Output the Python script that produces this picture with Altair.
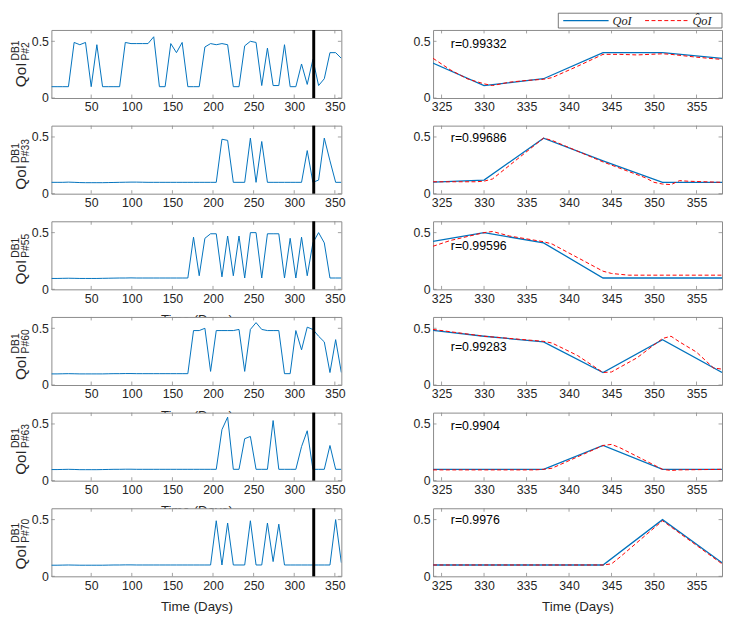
import altair as alt
import pandas as pd

# ---------------- data ----------------
days = list(range(1, 359, 7))  # weekly samples, day 1 .. 358
names = ["P#2", "P#33", "P#55", "P#60", "P#63", "P#70"]
r_values = ["0.99332", "0.99686", "0.99596", "0.99283", "0.9904", "0.9976"]

qoi_p2 = [0.1, 0.1, 0.1, 0.1, 0.49, 0.47, 0.49, 0.1, 0.47, 0.1, 0.1, 0.1, 0.1,
          0.49, 0.48, 0.48, 0.48, 0.48, 0.54, 0.1, 0.1, 0.48, 0.4, 0.49, 0.1, 0.1,
          0.1, 0.45, 0.48, 0.47, 0.48, 0.47, 0.1, 0.1, 0.46, 0.5, 0.49, 0.11, 0.44,
          0.11, 0.11, 0.47, 0.1, 0.1, 0.3, 0.12, 0.34, 0.11, 0.17, 0.4, 0.4, 0.35]
qoi_p33 = [0.1, 0.1, 0.1, 0.102, 0.1, 0.098, 0.097, 0.097, 0.097, 0.097, 0.098, 0.099, 0.1,
           0.101, 0.102, 0.102, 0.101, 0.1, 0.1, 0.1, 0.1, 0.1, 0.1, 0.1, 0.1, 0.1,
           0.1, 0.1, 0.1, 0.1, 0.48, 0.47, 0.1, 0.1, 0.1, 0.49, 0.1, 0.46, 0.1,
           0.1, 0.1, 0.1, 0.1, 0.1, 0.1, 0.38, 0.1, 0.12, 0.49, 0.29, 0.1, 0.1]
qoi_p55 = [0.096, 0.096, 0.097, 0.098, 0.097, 0.096, 0.096, 0.096, 0.096, 0.097, 0.098, 0.099, 0.1,
           0.1, 0.101, 0.1, 0.1, 0.1, 0.1, 0.1, 0.1, 0.1, 0.1, 0.1, 0.1, 0.46,
           0.12, 0.45, 0.49, 0.49, 0.11, 0.47, 0.12, 0.47, 0.1, 0.5, 0.5, 0.1, 0.49,
           0.49, 0.49, 0.1, 0.45, 0.1, 0.46, 0.12, 0.41, 0.5, 0.41, 0.1, 0.1, 0.1]
qoi_p60 = [0.098, 0.098, 0.099, 0.1, 0.099, 0.098, 0.098, 0.098, 0.098, 0.098, 0.099, 0.1, 0.1,
           0.101, 0.101, 0.1, 0.1, 0.1, 0.1, 0.1, 0.1, 0.1, 0.1, 0.1, 0.1, 0.48,
           0.48, 0.5, 0.12, 0.48, 0.48, 0.48, 0.48, 0.49, 0.12, 0.49, 0.55, 0.49, 0.48,
           0.48, 0.48, 0.1, 0.1, 0.48, 0.31, 0.51, 0.49, 0.43, 0.38, 0.11, 0.4, 0.11]
qoi_p63 = [0.098, 0.098, 0.099, 0.1, 0.099, 0.097, 0.097, 0.097, 0.097, 0.098, 0.099, 0.1, 0.1,
           0.101, 0.101, 0.1, 0.1, 0.1, 0.1, 0.1, 0.1, 0.1, 0.1, 0.1, 0.1, 0.1,
           0.1, 0.1, 0.1, 0.1, 0.45, 0.56, 0.1, 0.1, 0.37, 0.39, 0.1, 0.1, 0.1,
           0.53, 0.1, 0.1, 0.1, 0.1, 0.3, 0.44, 0.1, 0.1, 0.1, 0.31, 0.1, 0.1]
qoi_p70 = [0.098, 0.098, 0.099, 0.1, 0.099, 0.098, 0.098, 0.098, 0.098, 0.098, 0.099, 0.1, 0.1,
           0.101, 0.101, 0.1, 0.1, 0.1, 0.1, 0.1, 0.1, 0.1, 0.1, 0.1, 0.1, 0.1,
           0.1, 0.1, 0.1, 0.49, 0.1, 0.47, 0.1, 0.1, 0.1, 0.49, 0.1, 0.1, 0.47,
           0.13, 0.46, 0.1, 0.1, 0.1, 0.1, 0.1, 0.1, 0.1, 0.1, 0.1, 0.5, 0.12]
qoi_series = [qoi_p2, qoi_p33, qoi_p55, qoi_p60, qoi_p63, qoi_p70]

pred_days_p2 = [324, 326, 328, 330, 331, 333, 335, 337, 338, 341, 344, 346, 348, 351, 352, 355, 358]
pred_vals_p2 = [0.35, 0.25, 0.17, 0.125, 0.11, 0.14, 0.155, 0.165, 0.18, 0.28, 0.385, 0.385, 0.38, 0.39, 0.385, 0.36, 0.34]
pred_days_p33 = [324, 329, 330, 331, 332, 337, 338, 344, 349, 350, 351, 352, 353, 354, 358]
pred_vals_p33 = [0.105, 0.105, 0.11, 0.13, 0.19, 0.49, 0.47, 0.28, 0.14, 0.1, 0.085, 0.08, 0.115, 0.11, 0.1]
pred_days_p55 = [324, 326, 330, 331, 333, 337, 338, 341, 344, 345, 347, 358]
pred_vals_p55 = [0.38, 0.43, 0.5, 0.51, 0.47, 0.42, 0.4, 0.28, 0.16, 0.14, 0.125, 0.125]
pred_days_p60 = [324, 330, 337, 338, 341, 344, 345, 348, 351, 352, 353, 355, 357, 358]
pred_vals_p60 = [0.49, 0.43, 0.385, 0.37, 0.26, 0.11, 0.115, 0.24, 0.41, 0.43, 0.38, 0.29, 0.15, 0.14]
pred_days_p63 = [324, 336, 337, 338, 344, 345, 346, 351, 352, 353, 358]
pred_vals_p63 = [0.095, 0.095, 0.1, 0.11, 0.31, 0.32, 0.29, 0.1, 0.09, 0.095, 0.1]
pred_days_p70 = [324, 344, 345, 346, 351, 358]
pred_vals_p70 = [0.1, 0.1, 0.11, 0.17, 0.49, 0.11]
pred_days = [pred_days_p2, pred_days_p33, pred_days_p55, pred_days_p60, pred_days_p63, pred_days_p70]
pred_vals = [pred_vals_p2, pred_vals_p33, pred_vals_p55, pred_vals_p60, pred_vals_p63, pred_vals_p70]

x_ticks_left = [50, 100, 150, 200, 250, 300, 350]
x_ticks_right = [325, 330, 335, 340, 345, 350, 355]
y_ticks = [0, 0.5]
split_day = 324

# ---------------- style / layout ----------------
FONT = "Liberation Sans"
FRAME = "#8a8a8a"
TXT = "#262626"
BLUE = "#0072BD"
RED = "#FF0000"
W_L, W_R, H = 294, 293, 69
TL = 3.5
qoi_start = [58, 65, 64, 64, 63, 62]
r_text_y = [14, 13, 25, 31, 14, 12]
left_titles = [False, False, True, True, True, True]
PAD = {"left": 2, "top": 0, "right": 0, "bottom": 2}


def enc_x(domain, ticks, title):
    return alt.X("day:Q", scale=alt.Scale(domain=domain, nice=False, zero=False),
                 axis=alt.Axis(values=ticks, title=title, format="d"))


def enc_y():
    return alt.Y("val:Q", scale=alt.Scale(domain=[0, 0.6], nice=False, zero=False),
                 axis=alt.Axis(values=y_ticks, format="~g", title=None))


def tick_layers(xenc, w):
    tx = pd.DataFrame({"day": [float(t) for t in (x_ticks_left if w == W_L else x_ticks_right)]})
    ty = pd.DataFrame({"val": y_ticks})
    out = []
    for (a, b) in ((H - TL, H), (0, TL)):
        out.append(alt.Chart(tx).mark_rule(color=FRAME, strokeWidth=0.8).encode(
            x=xenc, y=alt.value(a), y2=alt.value(b)))
    for (a, b) in ((0, TL), (w - TL, w)):
        out.append(alt.Chart(ty).mark_rule(color=FRAME, strokeWidth=0.8).encode(
            y=enc_y(), x=alt.value(a), x2=alt.value(b)))
    return out


def ylabel_layers(i):
    one = alt.Chart(pd.DataFrame({"a": [0]}))
    s = qoi_start[i]
    common = dict(font=FONT, angle=270, align="left", baseline="middle", color=TXT)
    return [
        one.mark_text(text="QoI", fontSize=15.5, **common).encode(x=alt.value(-31), y=alt.value(s)),
        one.mark_text(text="DB1", fontSize=10.5, **common).encode(x=alt.value(-36), y=alt.value(s - 27)),
        one.mark_text(text=names[i], fontSize=10.5, **common).encode(x=alt.value(-26), y=alt.value(s - 27)),
    ]


def left_panel(i):
    df = pd.DataFrame({"day": days, "val": qoi_series[i]})
    title = "Time (Days)" if left_titles[i] else None
    xenc = enc_x([1, 358], x_ticks_left, title)
    line = alt.Chart(df).mark_line(color=BLUE, strokeWidth=1, clip=True).encode(x=xenc, y=enc_y())
    split = alt.Chart(pd.DataFrame({"day": [split_day]})).mark_rule(color="black", strokeWidth=3).encode(x=xenc)
    layers = [line, split] + tick_layers(xenc, W_L) + ylabel_layers(i)
    return alt.layer(*layers).properties(width=W_L, height=H)


def right_panel(i):
    sel = [(d, v) for d, v in zip(days, qoi_series[i]) if d >= 323]
    df = pd.DataFrame({"day": [d for d, _ in sel], "val": [v for _, v in sel]})
    dp = pd.DataFrame({"day": pred_days[i], "val": pred_vals[i]})
    title = "Time (Days)" if i == 5 else None
    xenc = enc_x([324, 358], x_ticks_right, title)
    line = alt.Chart(df).mark_line(color=BLUE, strokeWidth=1.3, clip=True).encode(x=xenc, y=enc_y())
    pred = alt.Chart(dp).mark_line(color=RED, strokeWidth=1, strokeDash=[4, 2.5], clip=True).encode(
        x=xenc, y=enc_y())
    rtxt = alt.Chart(pd.DataFrame({"r": ["r=" + r_values[i]]})).mark_text(
        font=FONT, fontSize=12.5, align="left", baseline="middle", color="black").encode(
        x=alt.value(18), y=alt.value(r_text_y[i]), text="r:N")
    layers = [line, pred] + tick_layers(xenc, W_R) + [rtxt]
    if i == 0:
        one = alt.Chart(pd.DataFrame({"a": [0]}))
        ly = -9.5
        layers += [
            one.mark_rect(fill="white", stroke="#555555", strokeWidth=0.8).encode(
                x=alt.value(127), x2=alt.value(W_R), y=alt.value(-17), y2=alt.value(-2)),
            one.mark_rule(color=BLUE, strokeWidth=1.2).encode(
                x=alt.value(132), x2=alt.value(178), y=alt.value(ly)),
            one.mark_text(text="QoI", font="Liberation Serif", fontStyle="italic", fontSize=12.5,
                          align="left", baseline="middle", color=TXT).encode(
                x=alt.value(182), y=alt.value(ly)),
            one.mark_rule(color=RED, strokeWidth=1, strokeDash=[4, 2.5]).encode(
                x=alt.value(215), x2=alt.value(260), y=alt.value(ly)),
            one.mark_text(text="Q\u0302oI", font="Liberation Serif", fontStyle="italic", fontSize=12.5,
                          align="left", baseline="middle", color=TXT).encode(
                x=alt.value(263), y=alt.value(ly)),
        ]
    return alt.layer(*layers).properties(width=W_R, height=H)


panels = []
for i in range(6):
    panels.append(left_panel(i))
    panels.append(right_panel(i))

chart = alt.concat(*panels, columns=2, spacing={"row": 28, "column": 93}, bounds="flush",
                   padding=PAD).configure(
    padding=PAD
).configure_view(
    stroke=FRAME, strokeWidth=1, fill="white"
).configure_axis(
    domain=False, ticks=False, grid=False,
    labelFont=FONT, labelFontSize=12.5, labelColor=TXT, labelPadding=3,
    labelFlush=False, labelOverlap=False,
    titleFont=FONT, titleFontSize=13.5, titleFontWeight="normal", titleColor=TXT, titlePadding=8,
)

chart.save("out.html", embed_options={"renderer": "svg", "actions": False})
